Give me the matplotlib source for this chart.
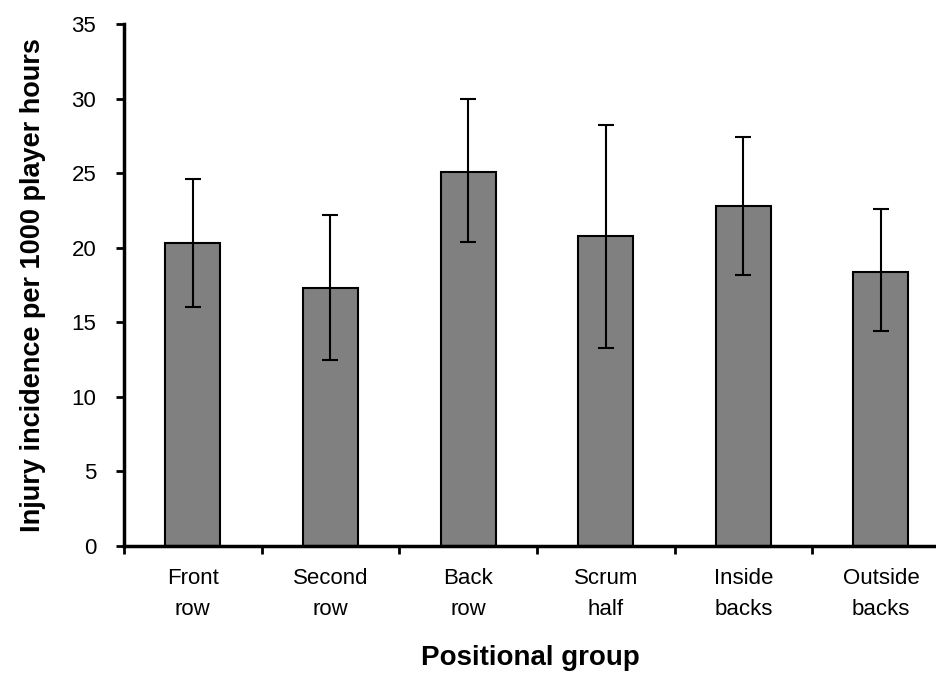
import matplotlib.pyplot as plt

# values
groups = ["Front\nrow", "Second\nrow", "Back\nrow", "Scrum\nhalf", "Inside\nbacks", "Outside\nbacks"]
incidence = [20.3, 17.3, 25.1, 20.8, 22.8, 18.4]
err_low = [4.3, 4.8, 4.7, 7.5, 4.6, 4.0]
err_high = [4.3, 4.9, 4.9, 7.4, 4.6, 4.2]


def main():
    plt.rcParams['font.family'] = ['Liberation Sans', 'DejaVu Sans']

    fig = plt.figure(figsize=(9.36, 6.73), dpi=100)
    ax = fig.add_axes([0.1325, 0.1887, 0.8675, 0.7756])

    x = list(range(len(groups)))
    ax.bar(x, incidence, width=0.4, color="#808080", edgecolor="black", linewidth=1.5, zorder=2)
    ax.errorbar(x, incidence, yerr=[err_low, err_high], fmt="none", ecolor="black",
                elinewidth=1.5, capsize=6, capthick=1.5, zorder=3)

    ax.set_xlim(-0.5, 5.4)
    ax.set_ylim(0, 35)
    ax.set_yticks(range(0, 36, 5))

    # category labels at bar centres, tick marks at the boundaries
    ax.set_xticks([i - 0.5 for i in x])
    ax.set_xticklabels([])
    ax.set_xticks(x, minor=True)
    ax.set_xticklabels(groups, minor=True, fontsize=16, linespacing=1.6)
    ax.tick_params(axis="x", which="minor", length=0, pad=16)
    ax.tick_params(axis="x", which="major", length=6, width=2, direction="out")
    ax.tick_params(axis="y", length=6, width=2, direction="out", labelsize=16, pad=14)

    for side in ["top", "right"]:
        ax.spines[side].set_visible(False)
    for side in ["left", "bottom"]:
        ax.spines[side].set_linewidth(2.5)

    ax.set_xlabel("Positional group", fontsize=20, fontweight="bold", labelpad=18)
    ax.set_ylabel("Injury incidence per 1000 player hours", fontsize=19.5, fontweight="bold", labelpad=18)

    fig.savefig("out.png", dpi=100)


if __name__ == "__main__":
    main()
